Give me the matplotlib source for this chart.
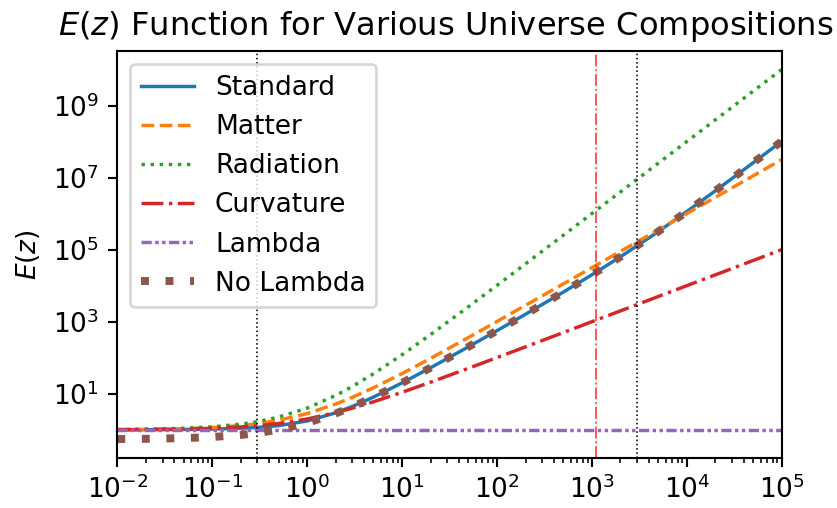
import numpy as np
import matplotlib.pyplot as plt

# redshift grid and E(z) for each composition
z = [0.01, 0.02, 0.05, 0.1, 0.2, 0.3, 0.5, 1, 2, 3, 5, 10, 20, 50,
     100, 200, 500, 1000, 2000, 5000, 1e4, 2e4, 5e4, 1e5]

E_standard = [1.005, 1.009, 1.023, 1.049, 1.104, 1.166, 1.309, 1.761, 2.968,
              4.464, 8.10, 20.04, 52.9, 201.2, 565, 1612, 6635, 2.003e4,
              6.33e4, 3.163e5, 1.140e6, 4.29e6, 2.574e7, 1.015e8]
E_matter = [1.015, 1.030, 1.076, 1.154, 1.315, 1.482, 1.837, 2.828, 5.196,
            8.0, 14.70, 36.48, 96.2, 364.2, 1015, 2850, 1.121e4, 3.167e4,
            8.95e4, 3.537e5, 1.000e6, 2.829e6, 1.118e7, 3.162e7]
E_radiation = [1.020, 1.040, 1.103, 1.21, 1.44, 1.69, 2.25, 4, 9, 16, 36,
               121, 441, 2601, 1.020e4, 4.04e4, 2.51e5, 1.002e6, 4.004e6,
               2.501e7, 1.0002e8, 4.0e8, 2.5e9, 1.0e10]
E_curvature = [1.01, 1.02, 1.05, 1.1, 1.2, 1.3, 1.5, 2, 3, 4, 6, 11, 21, 51,
               101, 201, 501, 1001, 2001, 5001, 1.0e4, 2.0e4, 5.0e4, 1.0e5]
E_lambda = [1.0, 1.0, 1.0, 1.0, 1.0, 1.0, 1.0, 1.0, 1.0, 1.0, 1.0, 1.0,
            1.0, 1.0, 1.0, 1.0, 1.0, 1.0, 1.0, 1.0, 1.0, 1.0, 1.0, 1.0]
E_no_lambda = [0.556, 0.564, 0.589, 0.632, 0.720, 0.812, 1.007, 1.550, 2.848,
               4.385, 8.058, 20.02, 52.9, 201.2, 565, 1612, 6635, 2.003e4,
               6.33e4, 3.163e5, 1.140e6, 4.29e6, 2.574e7, 1.015e8]

# matter-lambda equality, recombination, matter-radiation equality
z_lambda_eq = 0.3
z_rec = 1100
z_eq = 3000

dpi = 190
plt.rcParams['lines.linewidth'] = 1.3
fig = plt.figure(figsize=(837 / dpi, 508 / dpi), dpi=dpi)
ax = fig.add_axes([117.3 / 837, 1 - 457.5 / 508, 664.4 / 837, 406.5 / 508])

ax.plot(z, E_standard, '-', label='Standard')
ax.plot(z, E_matter, '--', label='Matter')
ax.plot(z, E_radiation, ':', label='Radiation')
ax.plot(z, E_curvature, '-.', label='Curvature')
ax.plot(z, E_lambda, linestyle=(0, (3, 1, 1, 1, 1, 1)), label='Lambda')
ax.plot(z, E_no_lambda, linestyle=(0, (1, 2.1)), lw=3.0, label='No Lambda')

ax.axvline(z_lambda_eq, color='k', linestyle=':', lw=0.6)
ax.axvline(z_rec, color='red', linestyle='-.', lw=0.7, alpha=0.7)
ax.axvline(z_eq, color='k', linestyle=':', lw=0.6)

ax.set_xscale('log')
ax.set_yscale('log')
ax.set_xlim(1e-2, 1e5)
ax.set_ylabel('$E(z)$')
ax.set_title('$E(z)$ Function for Various Universe Compositions',
             fontsize=12.2, x=0.494)
ax.legend(loc='upper left')

fig.savefig('out.png', dpi=dpi)
